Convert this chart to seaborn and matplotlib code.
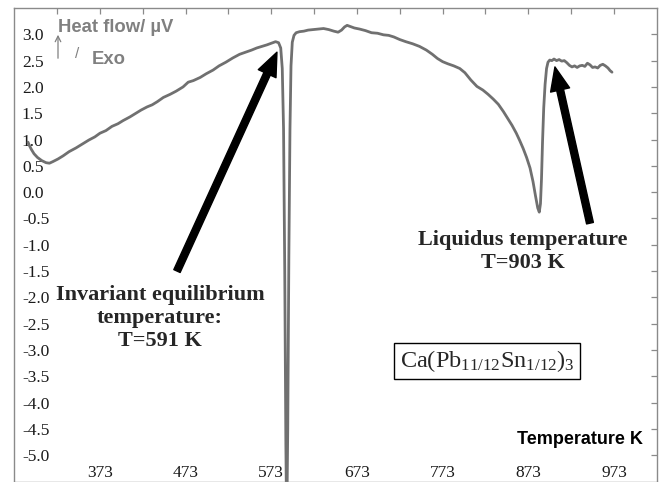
import matplotlib
matplotlib.use("Agg")
import numpy as np
import pandas as pd
import matplotlib.pyplot as plt
import seaborn as sns
from matplotlib.ticker import FixedLocator, FixedFormatter, FormatStrFormatter

# DTA heating curve of Ca(Pb11/12Sn1/12)3
temperature_K = [
    289.0, 290.5, 293.0, 296.0, 300.0, 305.0, 310.0, 314.0, 318.0, 324.0,
    330.0, 337.0, 345.0, 352.0, 360.0, 367.0, 373.0, 380.0, 387.0, 394.0,
    400.0, 408.0, 415.0, 421.0, 428.0, 434.0, 440.0, 447.0, 455.0, 462.0,
    470.0, 476.0, 482.0, 490.0, 497.0, 505.0, 512.0, 520.0, 528.0, 536.0,
    543.0, 550.0, 556.0, 562.0, 568.0, 573.0, 578.0, 581.5, 584.0, 585.8,
    587.3, 588.7, 590.0, 591.0, 592.2, 593.5, 594.8, 596.0, 597.5, 599.5,
    602.0, 606.0, 611.0, 616.0, 622.0, 628.0, 634.0, 640.0, 646.0, 651.0,
    655.0, 658.5, 661.5, 665.0, 670.0, 676.0, 683.0, 690.0, 697.0, 704.0,
    710.0, 716.0, 723.0, 730.0, 738.0, 746.0, 754.0, 761.0, 767.0, 773.0,
    779.0, 786.0, 793.0, 799.0, 806.0, 813.0, 820.0, 826.0, 832.0, 838.0,
    844.0, 849.0, 854.0, 859.0, 863.0, 867.0, 871.0, 875.0, 878.5, 881.5,
    884.0, 885.8, 887.2, 888.4, 889.6, 891.0, 892.6, 894.3, 896.0, 898.0,
    900.5, 903.0, 906.0, 909.0, 912.0, 915.0, 918.0, 921.0, 924.0, 927.0,
    930.0, 933.0, 936.0, 939.0, 942.0, 945.0, 948.0, 951.0, 954.0, 957.0,
    960.0, 963.0, 966.0, 968.5, 970.7,
]
heat_flow_uV = [
    0.95, 0.89, 0.81, 0.73, 0.66, 0.60, 0.56, 0.55, 0.58, 0.63,
    0.69, 0.77, 0.84, 0.91, 0.99, 1.05, 1.12, 1.17, 1.25, 1.30,
    1.36, 1.43, 1.50, 1.56, 1.62, 1.66, 1.72, 1.80, 1.86, 1.92,
    2.00, 2.09, 2.12, 2.18, 2.25, 2.32, 2.40, 2.47, 2.55, 2.62,
    2.66, 2.70, 2.74, 2.77, 2.80, 2.83, 2.86, 2.84, 2.74, 2.35,
    1.20, -1.50, -4.80, -6.40, -4.50, -1.20, 1.20, 2.40, 2.85, 2.98,
    3.03, 3.05, 3.06, 3.08, 3.09, 3.10, 3.11, 3.09, 3.06, 3.04,
    3.08, 3.14, 3.17, 3.15, 3.12, 3.10, 3.07, 3.03, 3.02, 2.99,
    2.98, 2.95, 2.90, 2.86, 2.82, 2.77, 2.70, 2.62, 2.54, 2.48,
    2.44, 2.40, 2.35, 2.27, 2.13, 2.01, 1.94, 1.86, 1.77, 1.67,
    1.53, 1.40, 1.27, 1.12, 0.98, 0.83, 0.66, 0.46, 0.20, -0.08,
    -0.30, -0.38, -0.22, 0.25, 0.95, 1.60, 2.05, 2.35, 2.47, 2.51,
    2.50, 2.53, 2.50, 2.52, 2.49, 2.50, 2.46, 2.41, 2.38, 2.40,
    2.37, 2.40, 2.41, 2.39, 2.45, 2.42, 2.37, 2.38, 2.36, 2.41,
    2.43, 2.40, 2.36, 2.31, 2.28,
]

T_invariant = 591
T_liquidus = 903

x_tick_values = [323, 373, 423, 473, 523, 573, 623, 673, 723, 773, 823, 873, 923, 973]
x_tick_labels = ["", "373", "", "473", "", "573", "", "673", "", "773", "", "873", "", "973"]
y_tick_values = [-5.0, -4.5, -4.0, -3.5, -3.0, -2.5, -2.0, -1.5, -1.0, -0.5,
                 0.0, 0.5, 1.0, 1.5, 2.0, 2.5, 3.0]

sns.set_style("white")
plt.rcParams["font.family"] = ["Liberation Serif", "DejaVu Serif"]
plt.rcParams["mathtext.fontset"] = "custom"
plt.rcParams["mathtext.rm"] = "Liberation Serif"
plt.rcParams["mathtext.it"] = "Liberation Serif:italic"
plt.rcParams["axes.unicode_minus"] = False

W, H = 664, 482
fig = plt.figure(figsize=(W / 100, H / 100), dpi=100)
ax = fig.add_axes([14.3 / W, 1 - 481.5 / H, (656.8 - 14.3) / W, (481.5 - 8) / H])

df = pd.DataFrame({"Temperature": temperature_K, "HeatFlow": heat_flow_uV})
sns.lineplot(data=df, x="Temperature", y="HeatFlow", estimator=None, sort=False,
             color="#707070", lw=2.0, ax=ax)

ax.set_xlim(273, 1023)
ax.set_ylim(-5.5, 3.5)
ax.set_xlabel("")
ax.set_ylabel("")

for s in ax.spines.values():
    s.set_color("#8a8a8a")
    s.set_linewidth(1.0)

ax.xaxis.set_major_locator(FixedLocator(x_tick_values))
ax.xaxis.set_major_formatter(FixedFormatter(x_tick_labels))
ax.yaxis.set_major_locator(FixedLocator(y_tick_values))
ax.yaxis.set_major_formatter(FormatStrFormatter("%.1f"))

ax.tick_params(axis="both", which="major", direction="in", length=4, width=0.9,
               color="#8a8a8a", top=True, right=True, labeltop=False, labelright=False,
               labelsize=12.5, labelcolor="#1a1a1a")
ax.tick_params(axis="y", pad=-5.5)
ax.tick_params(axis="x", pad=-12)
for lab in ax.get_yticklabels():
    lab.set_horizontalalignment("left")

# arrows pointing at the thermal events
arrow_kw = dict(facecolor="black", edgecolor="black", width=5.0, headwidth=14, headlength=17, shrink=0)
ax.annotate("", xy=(579.6, 2.66), xytext=(462.9, -1.50), arrowprops=arrow_kw)
ax.annotate("", xy=(904.1, 2.38), xytext=(945.0, -0.59), arrowprops=arrow_kw)

ax.text(443, -2.39, f"Invariant equilibrium\ntemperature:\nT={T_invariant} K",
        ha="center", va="center", fontsize=16, fontweight="bold", linespacing=1.2)
ax.text(866.8, -1.12, f"Liquidus temperature\nT={T_liquidus} K",
        ha="center", va="center", fontsize=16, fontweight="bold", linespacing=1.2)

ax.text(824.7, -3.21, r"Ca(Pb$_{11/12}$Sn$_{1/12}$)$_3$", ha="center", va="center", fontsize=17.5,
        bbox=dict(boxstyle="square,pad=0.22", facecolor="white", edgecolor="black", linewidth=1.0))

ax.text(1006.8, -4.71, "Temperature K", ha="right", va="center", fontsize=13,
        fontweight="bold", family=["Liberation Sans", "DejaVu Sans"], color="black")

def fx(px):
    return px / W

def fy(py):
    return 1 - py / H

gray = "#808080"
fig.text(fx(58), fy(27), "Heat flow/ µV", ha="left", va="center", fontsize=13.3,
         fontweight="bold", family=["Liberation Sans", "DejaVu Sans"], color=gray)
fig.text(fx(92), fy(60), "Exo", ha="left", va="center", fontsize=13.3,
         fontweight="bold", family=["Liberation Sans", "DejaVu Sans"], color=gray)
fig.text(fx(77), fy(54), "/", ha="center", va="center", fontsize=11,
         family=["Liberation Sans", "DejaVu Sans"], color=gray)
fig.add_artist(matplotlib.patches.FancyArrowPatch((fx(58), fy(61)), (fx(58), fy(32)),
               transform=fig.transFigure, arrowstyle="->,head_length=4,head_width=2",
               color=gray, lw=0.9))

fig.savefig("out.png", dpi=100)
